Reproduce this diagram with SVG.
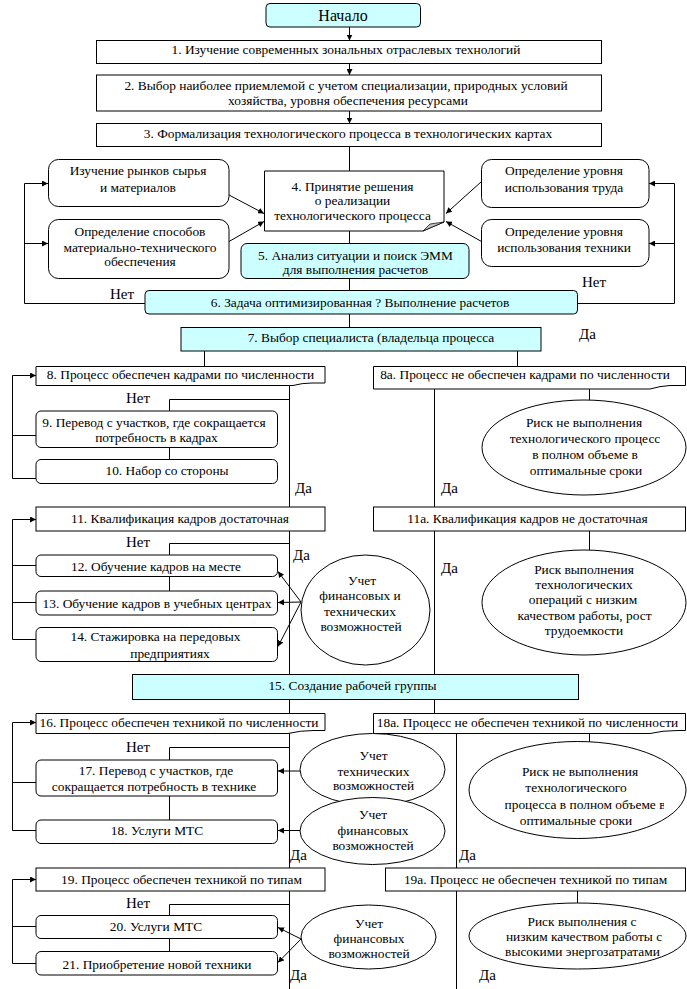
<svg xmlns="http://www.w3.org/2000/svg" width="687" height="989" viewBox="0 0 687 989" font-family="'Liberation Serif','Times New Roman',serif">
<style>
.b{fill:#fff;stroke:#000;stroke-width:1}
.c{fill:#ccffff;stroke:#000;stroke-width:1}
.ln{fill:none;stroke:#000;stroke-width:1}
.ar{fill:none;stroke:#000;stroke-width:1;marker-end:url(#a)}
.tx text{font-family:'Liberation Serif','Times New Roman',serif;font-size:13.4px;fill:#000;text-anchor:middle}
.tx .lb{font-size:15px;text-anchor:start}
.tx .st{font-size:16px}
</style>
<defs>
<marker id="a" viewBox="0 0 10 10" refX="10" refY="5" markerWidth="6" markerHeight="6" markerUnits="userSpaceOnUse" orient="auto"><path d="M0,0 L10,5 L0,10 z" fill="#000"/></marker>
<clipPath id="clip18a"><rect x="505" y="795" width="159" height="18"/></clipPath>
</defs>
<rect width="687" height="989" fill="#fff"/>

<g id="connectors">
<line class="ar" x1="349.5" y1="27" x2="349.5" y2="40.5"/>
<line class="ar" x1="349.5" y1="63.5" x2="349.5" y2="75"/>
<line class="ar" x1="349.5" y1="111" x2="349.5" y2="123.5"/>
<line class="ln" x1="349.5" y1="146.5" x2="349.5" y2="171"/>
<line class="ln" x1="349.5" y1="231" x2="349.5" y2="243.5"/>
<line class="ln" x1="349.5" y1="278.5" x2="349.5" y2="290.5"/>
<line class="ln" x1="349.5" y1="314" x2="349.5" y2="327.5"/>
<line class="ar" x1="229" y1="195" x2="264" y2="213.5"/>
<line class="ar" x1="229" y1="241.5" x2="264" y2="221.5"/>
<line class="ar" x1="481.5" y1="181.5" x2="446" y2="213.5"/>
<line class="ar" x1="481.5" y1="241.5" x2="446" y2="221.5"/>
<polyline class="ln" points="145,303.5 24.5,303.5 24.5,183.5"/>
<line class="ar" x1="24.5" y1="183.5" x2="48" y2="183.5"/>
<line class="ar" x1="24.5" y1="243.5" x2="48" y2="243.5"/>
<polyline class="ln" points="577.5,303.5 674.5,303.5 674.5,183.5"/>
<line class="ar" x1="674.5" y1="183.5" x2="649" y2="183.5"/>
<line class="ar" x1="674.5" y1="243.5" x2="649" y2="243.5"/>
<line class="ln" x1="204.5" y1="351" x2="204.5" y2="366.5"/>
<line class="ln" x1="517.5" y1="351" x2="517.5" y2="366.5"/>
<polyline class="ln" points="36,478.5 12.5,478.5 12.5,375.5"/>
<line class="ln" x1="12.5" y1="435.5" x2="36" y2="435.5"/>
<line class="ar" x1="12.5" y1="375.5" x2="36" y2="375.5"/>
<line class="ln" x1="289.5" y1="384" x2="289.5" y2="507"/>
<polyline class="ln" points="289.5,399.5 169.5,399.5 169.5,411"/>
<line class="ln" x1="169.5" y1="447.5" x2="169.5" y2="459.5"/>
<line class="ln" x1="434.5" y1="389" x2="434.5" y2="507"/>
<line class="ln" x1="589.5" y1="389" x2="589.5" y2="400"/>
<polyline class="ln" points="36,639.5 12.5,639.5 12.5,519.5"/>
<line class="ln" x1="12.5" y1="565.5" x2="36" y2="565.5"/>
<line class="ln" x1="12.5" y1="602.5" x2="36" y2="602.5"/>
<line class="ar" x1="12.5" y1="519.5" x2="36" y2="519.5"/>
<line class="ln" x1="289.5" y1="531" x2="289.5" y2="674.5"/>
<polyline class="ln" points="289.5,543.5 169.5,543.5 169.5,555"/>
<line class="ln" x1="169.5" y1="576.5" x2="169.5" y2="591"/>
<line class="ar" x1="301" y1="602" x2="278" y2="571.5"/>
<line class="ar" x1="301" y1="602" x2="278" y2="602.5"/>
<line class="ar" x1="301" y1="602" x2="278" y2="646.5"/>
<line class="ln" x1="434.5" y1="531" x2="434.5" y2="674.5"/>
<line class="ln" x1="589.5" y1="531" x2="589.5" y2="550"/>
<line class="ln" x1="289.5" y1="699.5" x2="289.5" y2="713.5"/>
<line class="ln" x1="434.5" y1="699.5" x2="434.5" y2="713.5"/>
<polyline class="ln" points="36,830.5 12.5,830.5 12.5,722.5"/>
<line class="ln" x1="12.5" y1="782.5" x2="36" y2="782.5"/>
<line class="ar" x1="12.5" y1="722.5" x2="36" y2="722.5"/>
<line class="ln" x1="289.5" y1="732" x2="289.5" y2="868"/>
<polyline class="ln" points="289.5,747.5 169.5,747.5 169.5,760"/>
<line class="ln" x1="169.5" y1="796" x2="169.5" y2="820"/>
<line class="ar" x1="300" y1="771" x2="278" y2="771"/>
<line class="ar" x1="300" y1="830.5" x2="278" y2="830.5"/>
<line class="ln" x1="456.5" y1="733.5" x2="456.5" y2="868"/>
<line class="ln" x1="589.5" y1="733.5" x2="589.5" y2="742"/>
<polyline class="ln" points="36,963.5 12.5,963.5 12.5,879.5"/>
<line class="ln" x1="12.5" y1="926.5" x2="36" y2="926.5"/>
<line class="ar" x1="12.5" y1="879.5" x2="36" y2="879.5"/>
<line class="ln" x1="289.5" y1="891" x2="289.5" y2="989"/>
<polyline class="ln" points="289.5,904.5 169.5,904.5 169.5,915.5"/>
<line class="ln" x1="169.5" y1="938.5" x2="169.5" y2="951.5"/>
<line class="ar" x1="301" y1="939" x2="278" y2="927.5"/>
<line class="ar" x1="301" y1="939" x2="278" y2="962.5"/>
<line class="ln" x1="456.5" y1="891" x2="456.5" y2="989"/>
<line class="ln" x1="577.5" y1="891" x2="577.5" y2="903.5"/>
</g>

<g class="tx">
<g id="labels">
<text class="lb" x="110" y="299">Нет</text>
<text class="lb" x="582" y="287">Нет</text>
<text class="lb" x="579" y="339">Да</text>
<text class="lb" x="126" y="403">Нет</text>
<text class="lb" x="295" y="493">Да</text>
<text class="lb" x="441" y="493">Да</text>
<text class="lb" x="126" y="547">Нет</text>
<text class="lb" x="293" y="560">Да</text>
<text class="lb" x="441" y="573">Да</text>
<text class="lb" x="126" y="752">Нет</text>
<text class="lb" x="290" y="860">Да</text>
<text class="lb" x="459" y="860">Да</text>
<text class="lb" x="126" y="908">Нет</text>
<text class="lb" x="290" y="980">Да</text>
<text class="lb" x="479" y="980">Да</text>
</g>

<g id="n0"><rect class="c" x="266" y="3.5" width="154.5" height="23.5" rx="4"/><text class="st" x="343" y="20.5">Начало</text></g>
<g id="n1"><rect class="b" x="96.5" y="40.5" width="505" height="23"/><text x="346" y="54">1. Изучение современных зональных отраслевых технологий</text></g>
<g id="n2"><rect class="b" x="96.5" y="75" width="505" height="36"/><text x="346" y="89.5">2. Выбор наиболее приемлемой с учетом специализации, природных условий</text><text x="348" y="104.5">хозяйства, уровня обеспечения ресурсами</text></g>
<g id="n3"><rect class="b" x="96.5" y="123.5" width="505" height="23"/><text x="348" y="137.5">3. Формализация технологического процесса в технологических картах</text></g>
<g id="nA"><rect class="b" x="48.5" y="159.5" width="180.5" height="47" rx="10"/><text x="138" y="175">Изучение рынков сырья</text><text x="138" y="192">и материалов</text></g>
<g id="nB"><rect class="b" x="48.5" y="219.5" width="180.5" height="59" rx="10"/><text x="140" y="236">Определение способов</text><text x="140" y="251.5">материально-технического</text><text x="140" y="266">обеспечения</text></g>
<g id="nC"><rect class="b" x="481.5" y="159.5" width="167.5" height="48" rx="10"/><text x="564" y="175">Определение уровня</text><text x="564" y="192">использования труда</text></g>
<g id="nD"><rect class="b" x="481.5" y="219.5" width="167.5" height="47" rx="10"/><text x="564" y="236">Определение уровня</text><text x="564" y="252">использования техники</text></g>
<g id="n4"><path class="b" d="M264.5,171 H444 V222 L423,231 H264.5 Z"/><path d="M423,231 L430,224 L444,222 Z" fill="#c0c0c0" stroke="#000" stroke-width="0.7"/><text x="352.5" y="190.5">4. Принятие решения</text><text x="352.5" y="205">о реализации</text><text x="352.5" y="219.5">технологического процесса</text></g>
<g id="n5"><rect class="c" x="241" y="243.5" width="228" height="35" rx="6"/><text x="355.5" y="259.5">5. Анализ ситуации и поиск ЭММ</text><text x="355.5" y="274">для выполнения расчетов</text></g>
<g id="n6"><rect class="c" x="145" y="290.5" width="432.5" height="23.5" rx="4"/><text x="360" y="307">6. Задача оптимизированная ? Выполнение расчетов</text></g>
<g id="n7"><rect class="c" x="181" y="327.5" width="360" height="23.5"/><text x="371" y="342">7. Выбор специалиста (владельца процесса</text></g>
<g id="n8"><path class="b" d="M36,366.5 H325 V383 H312 Q302,383 293,385.5 H36 Z"/><text x="180.5" y="378.5">8. Процесс обеспечен кадрами по численности</text></g>
<g id="n8a"><path class="b" d="M373.5,366.5 H685.5 V385.5 H670 Q660,386 650,389 H373.5 Z"/><text x="525" y="378.5">8а. Процесс не обеспечен кадрами по численности</text></g>
<g id="n9"><rect class="b" x="36" y="411" width="241.5" height="36.5" rx="5"/><text x="154" y="427">9. Перевод с участков, где сокращается</text><text x="156.5" y="442">потребность в кадрах</text></g>
<g id="n10"><rect class="b" x="36" y="459.5" width="241.5" height="24" rx="5"/><text x="167" y="475">10. Набор со стороны</text></g>
<g id="nR1"><ellipse class="b" cx="584" cy="447.5" rx="102" ry="47.5"/><text x="584" y="427">Риск не выполнения</text><text x="585" y="443">технологического процесс</text><text x="585" y="458.5">в полном объеме в</text><text x="586" y="474.5">оптимальные сроки</text></g>
<g id="n11"><rect class="b" x="36" y="507" width="289" height="24"/><text x="180" y="523">11. Квалификация кадров достаточная</text></g>
<g id="n11a"><rect class="b" x="373.5" y="507" width="312" height="24"/><text x="527.5" y="523">11а. Квалификация кадров не достаточная</text></g>
<g id="n12"><rect class="b" x="36" y="555" width="241.5" height="21.5" rx="5"/><text x="156" y="571">12. Обучение кадров на месте</text></g>
<g id="n13"><rect class="b" x="36" y="591" width="241.5" height="24" rx="5"/><text x="157" y="608">13. Обучение кадров в учебных центрах</text></g>
<g id="n14"><rect class="b" x="36" y="627.5" width="241.5" height="34" rx="5"/><text x="155.5" y="641">14. Стажировка на передовых</text><text x="170" y="658">предприятиях</text></g>
<g id="nU1"><ellipse class="b" cx="365.5" cy="610" rx="64.5" ry="55"/><text x="362" y="585">Учет</text><text x="360" y="600">финансовых  и</text><text x="360" y="616">технических</text><text x="361" y="631">возможностей</text></g>
<g id="nR2"><ellipse class="b" cx="584" cy="602.5" rx="102" ry="52.5"/><text x="584" y="574">Риск выполнения</text><text x="584" y="589">технологических</text><text x="583" y="604">операций с низким</text><text x="584.5" y="619.5">качеством работы, рост</text><text x="584" y="634.5">трудоемкости</text></g>
<g id="n15"><rect class="c" x="132.5" y="674.5" width="446" height="25"/><text x="352.5" y="690">15. Создание рабочей группы</text></g>
<g id="n16"><path class="b" d="M36,713.5 H325 V730.5 H314 Q300,730.5 288,733.5 H36 Z"/><text x="179" y="727">16. Процесс обеспечен техникой по численности</text></g>
<g id="n18a"><path class="b" d="M373.5,713.5 H685.5 V730.5 H678 Q662,730.5 650,733.5 H373.5 Z"/><text x="527.5" y="727">18а. Процесс не обеспечен техникой по численности</text></g>
<g id="n17"><rect class="b" x="36" y="760" width="241.5" height="36" rx="5"/><text x="156" y="775">17. Перевод с участков, где</text><text x="154" y="791">сокращается потребность в технике</text></g>
<g id="n18"><rect class="b" x="36" y="820" width="241.5" height="23.5" rx="5"/><text x="157" y="835">18. Услуги МТС</text></g>
<g id="nU2"><ellipse class="b" cx="372.5" cy="769.5" rx="72.5" ry="36"/><text x="373.5" y="759.5">Учет</text><text x="373.5" y="775.5">технических</text><text x="373.5" y="790">возможностей</text></g>
<g id="nU3"><ellipse class="b" cx="372.5" cy="831" rx="72.5" ry="33.5"/><text x="373" y="819">Учет</text><text x="373" y="834.5">финансовых</text><text x="373" y="850">возможностей</text></g>
<g id="nR3"><ellipse class="b" cx="577.5" cy="790" rx="108.5" ry="48.5"/><text x="580" y="776">Риск не выполнения</text><text x="576" y="792">технологического</text><text x="585" y="808.5" clip-path="url(#clip18a)">процесса в полном объеме в</text><text x="576" y="825">оптимальные сроки</text></g>
<g id="n19"><rect class="b" x="36" y="868" width="289" height="23"/><text x="181.5" y="883.5">19. Процесс обеспечен техникой по типам</text></g>
<g id="n19a"><rect class="b" x="385.5" y="868" width="300" height="23"/><text x="535.5" y="883.5">19а. Процесс не обеспечен техникой по типам</text></g>
<g id="n20"><rect class="b" x="36" y="915.5" width="241.5" height="23" rx="5"/><text x="156" y="931">20. Услуги МТС</text></g>
<g id="n21"><rect class="b" x="36" y="951.5" width="241.5" height="23.5" rx="5"/><text x="157" y="968.5">21. Приобретение новой техники</text></g>
<g id="nU4"><ellipse class="b" cx="368.5" cy="937" rx="67.5" ry="32"/><text x="369" y="928">Учет</text><text x="369" y="943">финансовых</text><text x="369" y="958">возможностей</text></g>
<g id="nR4"><ellipse class="b" cx="577.5" cy="936" rx="108.5" ry="33"/><text x="582" y="926">Риск выполнения с</text><text x="584" y="941">низким качеством работы с</text><text x="582.5" y="956">высокими энергозатратами</text></g>
</g>
</svg>
